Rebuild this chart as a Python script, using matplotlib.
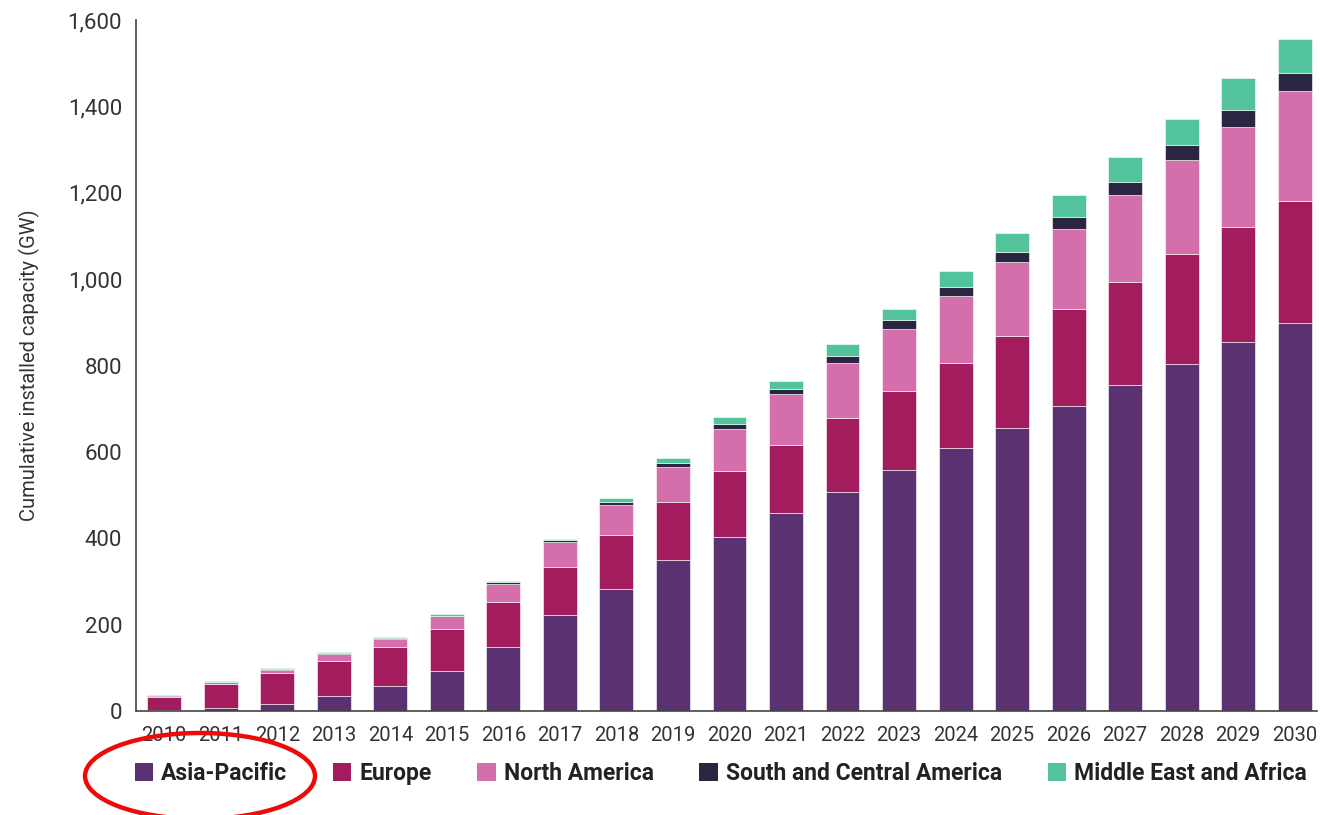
import matplotlib
matplotlib.use("Agg")
import matplotlib.pyplot as plt
from matplotlib.patches import Ellipse, Patch
from matplotlib.ticker import FuncFormatter
import numpy as np

years = [str(y) for y in range(2010, 2031)]
asia_pacific = [2, 8, 17, 35, 58, 93, 148, 222, 283, 349, 404, 458, 508, 559, 610, 655, 707, 756, 803, 854, 899]
europe = [31, 55, 72, 81, 91, 98, 104, 112, 124, 136, 152, 159, 171, 182, 196, 213, 224, 237, 256, 266, 283]
north_america = [2, 4, 6, 16, 18, 28, 43, 57, 71, 81, 96, 118, 128, 143, 156, 172, 186, 202, 216, 233, 253]
south_central_america = [1, 1, 2, 2, 2, 2, 3, 5, 7, 8, 12, 10, 15, 21, 20, 23, 27, 31, 35, 39, 43]
middle_east_africa = [1, 2, 2, 3, 3, 3, 3, 3, 8, 12, 16, 20, 28, 25, 38, 43, 50, 57, 62, 73, 77]

series = [
    ("Asia-Pacific", asia_pacific, "#5a3272"),
    ("Europe", europe, "#a21c5e"),
    ("North America", north_america, "#d56fab"),
    ("South and Central America", south_central_america, "#2a2540"),
    ("Middle East and Africa", middle_east_africa, "#52c39a"),
]

plt.rcParams['font.family'] = ['Roboto', 'DejaVu Sans']

fig = plt.figure(figsize=(13.2, 8.15), dpi=100)
ax = fig.add_axes([0.103, 0.1276, 0.895, 0.8478])

x = np.arange(len(years))
bottom = np.zeros(len(years))
handles = []
for name, vals, col in series:
    v = np.array(vals, dtype=float)
    ax.bar(x, v, bottom=bottom, width=0.6, color=col, edgecolor='white', linewidth=0.4, label=name)
    bottom += v
    handles.append(Patch(facecolor=col, label=name))

ax.set_xlim(-0.5, 20.4)
ax.set_ylim(0, 1600)
ax.set_yticks(np.arange(0, 1601, 200))
ax.yaxis.set_major_formatter(FuncFormatter(lambda v, p: f"{int(v):,}"))
ax.set_xticks(x)
ax.set_xticklabels(years)
for s in ['top', 'right']:
    ax.spines[s].set_visible(False)
for s in ['left', 'bottom']:
    ax.spines[s].set_color('#444444')
    ax.spines[s].set_linewidth(1.2)
ax.tick_params(axis='both', length=0, colors='#333333')
ax.tick_params(axis='y', labelsize=16, pad=10)
ax.tick_params(axis='x', labelsize=14.5, pad=11)
ax.set_ylabel("Cumulative installed capacity (GW)", fontsize=14.5, color='#333333', labelpad=20)

leg = fig.legend(handles=handles, loc='center', bbox_to_anchor=(0.546, 0.051), ncol=5,
                 frameon=False, handlelength=0.8, handleheight=0.8, handletextpad=0.35,
                 columnspacing=2.0, prop={'size': 16.5, 'weight': 'bold'})
for t in leg.get_texts():
    t.set_color('#222222')

ell = Ellipse((200 / 1320, 1 - 776 / 815), 230 / 1320, 86 / 815, transform=fig.transFigure,
              fill=False, edgecolor='#ee0a0a', linewidth=3.2)
fig.patches.append(ell)

fig.savefig("out.png", dpi=100)
